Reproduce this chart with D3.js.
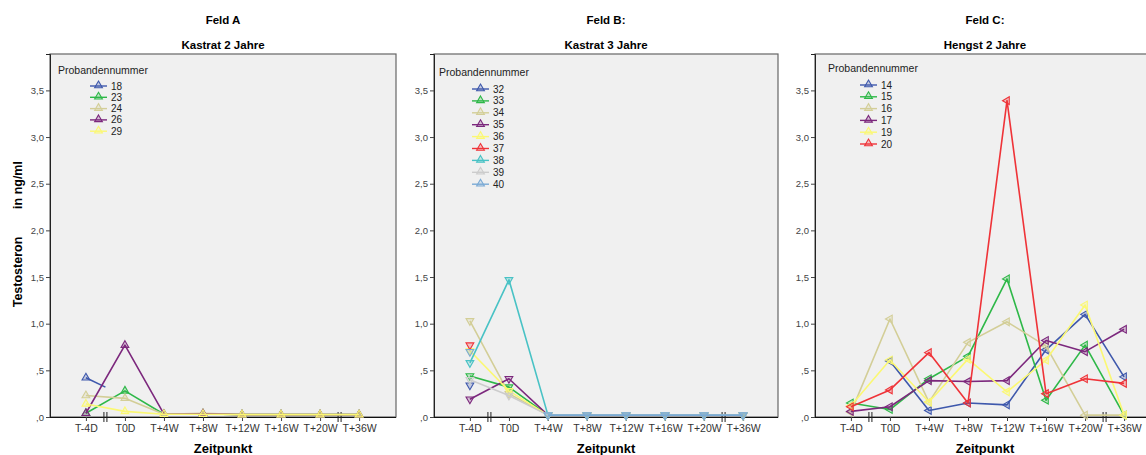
<!DOCTYPE html>
<html>
<head>
<meta charset="utf-8">
<script src="https://cdn.jsdelivr.net/npm/d3@7"></script>
<style>
  body { margin: 0; background: #fff; }
  svg text { font-family: "Liberation Sans", Arial, sans-serif; }
</style>
</head>
<body>
<div id="chart"></div>
<script>
// Messzeitpunkte und Achsenticks
const zeitpunkte = ["T-4D", "T0D", "T+4W", "T+8W", "T+12W", "T+16W", "T+20W", "T+36W"];
const yTicks = [0, 0.5, 1, 1.5, 2, 2.5, 3, 3.5];
const farben = ["#3E58AC", "#2EB848", "#D3CE97", "#7C287D", "#FBF873", "#EF3338", "#48C2C5", "#CCCCCC", "#7AAAD5"];

// Feld A: Kastrat 2 Jahre
const feldA_ids = ["18", "23", "24", "26", "29"];
const feldA_werte = [
  [0.42, 0.22, null, null, null, null, null, null],
  [0.04, 0.28, 0.03, 0.035, 0.025, 0.025, 0.025, 0.025],
  [0.23, 0.20, 0.03, 0.04, 0.025, 0.025, 0.025, 0.025],
  [0.04, 0.77, 0.03, 0.035, 0.025, 0.025, 0.025, 0.025],
  [0.14, 0.06, 0.03, 0.03, 0.025, 0.025, 0.025, 0.025]
];
// Linie endet auf halbem Weg zum Punkt (kein Marker dort)
const feldA_halb = { "18": 1 };

// Feld B: Kastrat 3 Jahre
const feldB_ids = ["32", "33", "34", "35", "36", "37", "38", "39", "40"];
const feldB_werte = [
  [0.34, null, null, null, null, null, null, null],
  [0.44, 0.32, 0.02, 0.02, 0.02, 0.02, 0.02, 0.02],
  [1.03, 0.25, 0.02, 0.02, 0.02, 0.02, 0.02, 0.02],
  [0.19, 0.41, 0.02, 0.02, 0.02, 0.02, 0.02, 0.02],
  [0.71, 0.28, 0.02, 0.02, 0.02, 0.02, 0.02, 0.02],
  [0.77, null, null, null, null, null, null, null],
  [0.58, 1.47, 0.02, 0.02, 0.02, 0.02, 0.02, 0.02],
  [0.40, 0.23, 0.02, 0.02, 0.02, 0.02, 0.02, 0.02],
  [0.70, null, 0.02, 0.02, 0.02, 0.02, 0.02, 0.02]
];

// Feld C: Hengst 2 Jahre
const feldC_ids = ["14", "15", "16", "17", "19", "20"];
const feldC_werte = [
  [null, 0.60, 0.07, 0.15, 0.13, 0.72, 1.10, 0.43],
  [0.15, 0.08, 0.41, 0.65, 1.48, 0.18, 0.77, 0.02],
  [0.05, 1.05, 0.16, 0.80, 1.02, 0.76, 0.02, 0.02],
  [0.06, 0.11, 0.39, 0.38, 0.39, 0.82, 0.70, 0.94],
  [0.12, 0.61, 0.16, 0.62, 0.27, 0.61, 1.20, 0.02],
  [0.11, 0.29, 0.69, 0.15, 3.39, 0.25, 0.41, 0.36]
];

const W = 1146, H = 455;
const TOP = 54, BOTTOM = 417;

const panels = [
  { feld: "Feld A", titel: "Kastrat 2 Jahre", ids: feldA_ids, werte: feldA_werte, halb: feldA_halb,
    left: 50, right: 396, rot: 0, leg: { x: 58, y: 74, sx: 90, ey: 86, dy: 11.3 } },
  { feld: "Feld B:", titel: "Kastrat 3 Jahre", ids: feldB_ids, werte: feldB_werte, halb: {},
    left: 434, right: 778, rot: 180, leg: { x: 439, y: 76, sx: 472, ey: 89, dy: 11.9 } },
  { feld: "Feld C:", titel: "Hengst 2 Jahre", ids: feldC_ids, werte: feldC_werte, halb: {},
    left: 815, right: 1155, rot: -90, leg: { x: 828, y: 71.5, sx: 860, ey: 85, dy: 11.8 } }
];

const svg = d3.select("#chart").append("svg")
  .attr("width", W).attr("height", H);

const y = d3.scaleLinear().domain([0, 3.89]).range([BOTTOM, TOP]);
const fmt = d => d < 1 ? "," + Math.round(d * 10) : d.toFixed(1).replace(".", ",");
const tri = d3.symbol().type(d3.symbolTriangle).size(26);

// Y-Achsentitel
svg.append("text").attr("transform", "translate(22,272) rotate(-90)")
  .attr("text-anchor", "middle").attr("font-size", "12.5px").attr("font-weight", "bold")
  .text("Testosteron");
svg.append("text").attr("transform", "translate(22,185) rotate(-90)")
  .attr("text-anchor", "middle").attr("font-size", "12.5px").attr("font-weight", "bold")
  .text("in ng/ml");

panels.forEach(p => {
  const g = svg.append("g");
  const x = d3.scalePoint().domain(zeitpunkte).range([p.left, 2 * p.left + 345 - p.left]).padding(0.92);
  x.range([p.left, p.left + 345]);
  const cx = (p.left + p.right) / 2;

  g.append("text").attr("x", cx).attr("y", 24).attr("text-anchor", "middle")
    .attr("font-size", "11.5px").attr("font-weight", "bold").text(p.feld);
  g.append("text").attr("x", cx).attr("y", 49).attr("text-anchor", "middle")
    .attr("font-size", "11.5px").attr("font-weight", "bold").text(p.titel);

  g.append("rect").attr("x", p.left).attr("y", TOP)
    .attr("width", p.right - p.left).attr("height", BOTTOM - TOP)
    .attr("fill", "#F0F0F0").attr("stroke", "#666").attr("stroke-width", 1.2);

  // y-Achse
  const ya = g.append("g").attr("transform", `translate(${p.left},0)`)
    .call(d3.axisLeft(y).tickValues(yTicks).tickFormat(fmt).tickSize(4).tickPadding(2));
  ya.select(".domain").attr("stroke", "#222");
  ya.selectAll(".tick line").attr("stroke", "#444");
  ya.selectAll(".tick text").attr("font-size", "9.5px").attr("fill", "#444")
    .attr("font-family", "Liberation Sans, Arial, sans-serif");

  // x-Achse
  const xa = g.append("g").attr("transform", `translate(0,${BOTTOM})`)
    .call(d3.axisBottom(x).tickSize(4).tickPadding(4));
  xa.select(".domain").attr("stroke", "#111").attr("d", `M${p.left},0.5H${p.right}`);
  xa.selectAll(".tick line").attr("stroke", "#444");
  xa.selectAll(".tick text").attr("font-size", "10.5px").attr("fill", "#333")
    .attr("font-family", "Liberation Sans, Arial, sans-serif");

  // Achsenunterbrechungen
  [[0, 1], [6, 7]].forEach(([a, b]) => {
    const mx = (x(zeitpunkte[a]) + x(zeitpunkte[b])) / 2;
    [-1.5, 1.5].forEach(o => {
      g.append("line").attr("x1", mx + o).attr("x2", mx + o)
        .attr("y1", BOTTOM - 5).attr("y2", BOTTOM + 5)
        .attr("stroke", "#222").attr("stroke-width", 1);
    });
  });

  g.append("text").attr("x", cx).attr("y", 453).attr("text-anchor", "middle")
    .attr("font-size", "13px").attr("font-weight", "bold").text("Zeitpunkt");

  // Serien
  const line = d3.line().defined(d => d).x(d => d.x).y(d => d.y);
  p.ids.forEach((id, si) => {
    const col = farben[si];
    const vals = p.werte[si];
    const pts = vals.map((v, i) => v == null ? null : { x: x(zeitpunkte[i]), y: y(v), m: true });
    if (p.halb[id] != null) {
      const j = p.halb[id];
      pts[j] = { x: (pts[j - 1].x + pts[j].x) / 2, y: (pts[j - 1].y + pts[j].y) / 2, m: false };
    }
    const sg = g.append("g");
    sg.append("path").attr("d", line(pts)).attr("fill", "none")
      .attr("stroke", col).attr("stroke-width", 1.6).attr("stroke-linejoin", "round");
    sg.selectAll("path.m").data(pts.filter(d => d && d.m)).join("path")
      .attr("class", "m")
      .attr("d", tri)
      .attr("transform", d => `translate(${d.x},${d.y}) rotate(${p.rot})`)
      .attr("fill", col).attr("fill-opacity", 0.25)
      .attr("stroke", col).attr("stroke-width", 1.1);
  });

  // Legende
  const lg = g.append("g");
  lg.append("text").attr("x", p.leg.x).attr("y", p.leg.y)
    .attr("font-size", "10.5px").attr("fill", "#222").text("Probandennummer");
  p.ids.forEach((id, si) => {
    const yy = p.leg.ey + si * p.leg.dy;
    const col = farben[si];
    lg.append("line").attr("x1", p.leg.sx).attr("x2", p.leg.sx + 17)
      .attr("y1", yy).attr("y2", yy).attr("stroke", col).attr("stroke-width", 1.4);
    lg.append("path").attr("d", tri)
      .attr("transform", `translate(${p.leg.sx + 8.5},${yy - 0.5})`)
      .attr("fill", col).attr("fill-opacity", 0.25).attr("stroke", col).attr("stroke-width", 1.1);
    lg.append("text").attr("x", p.leg.sx + 21).attr("y", yy + 3.5)
      .attr("font-size", "10px").attr("fill", "#222").text(id);
  });
});
</script>
</body>
</html>
